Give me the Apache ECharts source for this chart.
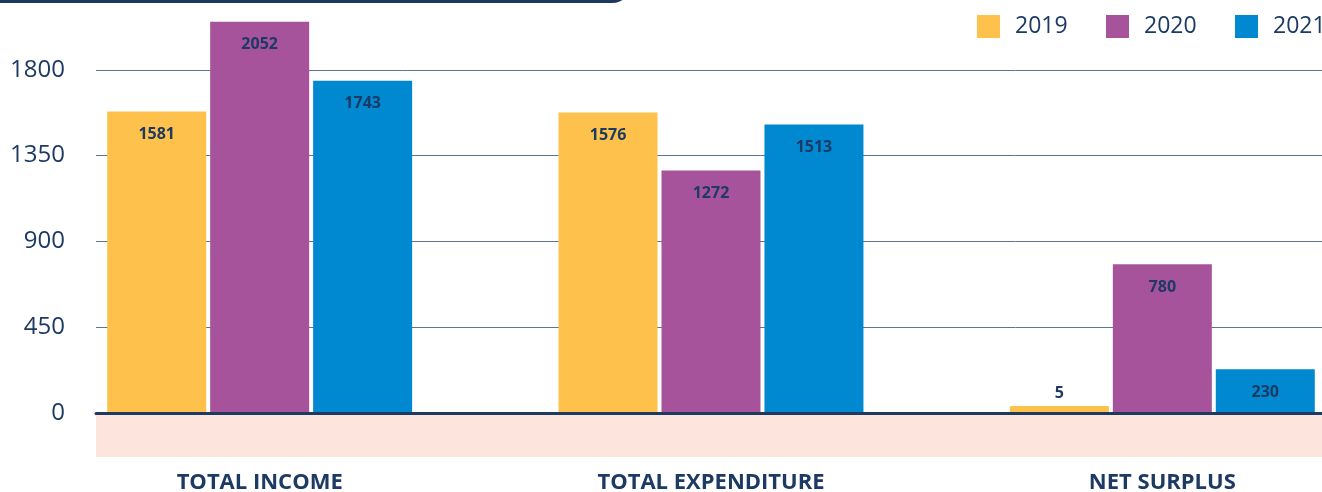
<!DOCTYPE html>
<html>
<head>
<meta charset="utf-8">
<title>Income, expenditure and surplus</title>
<script src="https://cdn.jsdelivr.net/npm/echarts@6/dist/echarts.min.js"></script>
<style>
  html, body { margin: 0; padding: 0; background: #fff; }
  #chart { width: 1322px; height: 492px; }
</style>
</head>
<body>
<div id="chart"></div>
<script>
const categories = ["TOTAL INCOME", "TOTAL EXPENDITURE", "NET SURPLUS"];
const years = ["2019", "2020", "2021"];
const values2019 = [1581, 1576, 5];
const values2020 = [2052, 1272, 780];
const values2021 = [1743, 1513, 230];
const yMin = 0;
const yMax = 2250;
const yStep = 450;

const navy = "#1C3A63";
const colors = ["#FDC14C", "#A6539C", "#0089D0"];
const font = "Open Sans";

const chart = echarts.init(document.getElementById("chart"));

// small bars get their label above the bar instead of inside
const withLabels = (arr) =>
  arr.map((v) =>
    v < 100 ? { value: v, label: { position: "top", distance: 5 } } : v
  );

const makeSeries = (name, data, color) => ({
  name: name,
  type: "bar",
  xAxisIndex: 0,
  yAxisIndex: 0,
  data: withLabels(data),
  barWidth: 99,
  barGap: "4%",
  barMinHeight: 7,
  itemStyle: { color: color },
  label: {
    show: true,
    position: "insideTop",
    distance: 15,
    color: navy,
    fontFamily: font,
    fontWeight: "bold",
    fontSize: 16,
  },
});

const legendAt = (name, left) => ({
  data: [name],
  left: left,
  top: 10,
  icon: "rect",
  itemWidth: 23,
  itemHeight: 23,
  textStyle: {
    color: navy,
    fontFamily: font,
    fontSize: 23,
    padding: [0, 0, 0, 10],
  },
});

chart.setOption({
  animation: false,
  legend: [
    legendAt(years[0], 972),
    legendAt(years[1], 1101),
    legendAt(years[2], 1230),
  ],
  graphic: [
    {
      type: "rect",
      shape: { x: -30, y: -40, width: 662, height: 43, r: 20 },
      style: { fill: "#1D3763" },
    },
    {
      type: "rect",
      z: -10,
      shape: { x: 96, y: 415, width: 1226, height: 42 },
      style: { fill: "#FDE4DC" },
    },
  ],
  grid: [
    { left: 34, width: 1354, top: -16, height: 429, outerBoundsMode: "none" },
    { left: 96, width: 1226, top: -16, height: 429, outerBoundsMode: "none" },
  ],
  xAxis: [
    {
      type: "category",
      gridIndex: 0,
      data: categories,
      axisLine: { show: false },
      axisTick: { show: false },
      axisLabel: {
        margin: 59,
        color: navy,
        fontFamily: font,
        fontWeight: "bold",
        fontSize: 22,
      },
    },
    {
      type: "value",
      gridIndex: 1,
      min: 0,
      max: 1,
      z: 5,
      axisLine: { show: true, lineStyle: { color: "#1E3A5F", width: 3 } },
      axisTick: { show: false },
      axisLabel: { show: false },
      splitLine: { show: false },
    },
  ],
  yAxis: [
    {
      type: "value",
      gridIndex: 0,
      min: yMin,
      max: yMax,
      interval: yStep,
      show: false,
      splitLine: { show: false },
    },
    {
      type: "value",
      gridIndex: 1,
      min: yMin,
      max: yMax,
      interval: yStep,
      axisLine: { show: false },
      axisTick: { show: false },
      axisLabel: {
        margin: 31,
        color: navy,
        fontFamily: font,
        fontSize: 24,
        formatter: (v) => (v >= yMax ? "" : String(v)),
      },
      splitLine: {
        showMaxLine: false,
        lineStyle: { color: "#5C7590", width: 1 },
      },
    },
  ],
  series: [
    makeSeries(years[0], values2019, colors[0]),
    makeSeries(years[1], values2020, colors[1]),
    makeSeries(years[2], values2021, colors[2]),
  ],
});
</script>
</body>
</html>
